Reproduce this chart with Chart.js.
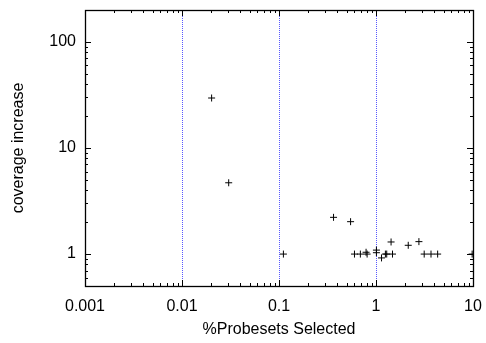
<!DOCTYPE html>
<html>
<head>
<meta charset="utf-8">
<script src="https://cdn.jsdelivr.net/npm/chart.js@4"></script>
<style>
  html, body { margin: 0; padding: 0; background: #fff; }
  #wrap { width: 486px; height: 343px; }
</style>
</head>
<body>
<div id="wrap"><canvas id="myChart" width="486" height="343"></canvas></div>
<script>
// %probesets selected vs coverage increase
const pctSelected = [0.0202, 0.0303, 0.111, 0.365, 0.547, 0.60, 0.69, 0.79, 0.81, 1.01, 1.01, 1.14, 1.25, 1.29, 1.43, 1.48, 2.15, 2.77, 3.14, 3.69, 4.32, 9.8];
const coverage    = [29.6, 4.7, 1.0, 2.22, 2.02, 1.0, 1.0, 1.04, 1.0, 1.09, 1.03, 0.92, 1.0, 1.0, 1.3, 1.0, 1.21, 1.31, 1.0, 1.0, 1.0, 1.0];

const xTicks = [0.001, 0.01, 0.1, 1, 10];
const xTickLabels = ["0.001", "0.01", "0.1", "1", "10"];
const yTicks = [1, 10, 100];
const yTickLabels = ["1", "10", "100"];
const xGridAt = [0.01, 0.1, 1];

const FONT = "'Liberation Sans', Arial, sans-serif";

// frame with inward major/minor log ticks on all four sides
const frameTicks = {
  id: "frameTicks",
  afterDraw(chart) {
    const { ctx, chartArea: a, scales } = chart;
    ctx.save();
    ctx.strokeStyle = "#000";
    ctx.lineWidth = 1;
    ctx.beginPath();
    const logTicks = (scale, cb) => {
      const lo = Math.floor(Math.log10(scale.min));
      const hi = Math.ceil(Math.log10(scale.max));
      for (let d = lo; d <= hi; d++) {
        for (let m = 1; m <= 9; m++) {
          const v = m * Math.pow(10, d);
          if (v < scale.min * 0.999 || v > scale.max * 1.001) continue;
          cb(Math.round(scale.getPixelForValue(v)) + 0.5, m === 1 ? 6 : 3);
        }
      }
    };
    logTicks(scales.x, (px, len) => {
      ctx.moveTo(px, a.bottom); ctx.lineTo(px, a.bottom - len);
      ctx.moveTo(px, a.top); ctx.lineTo(px, a.top + len);
    });
    logTicks(scales.y, (py, len) => {
      ctx.moveTo(a.left, py); ctx.lineTo(a.left + len, py);
      ctx.moveTo(a.right, py); ctx.lineTo(a.right - len, py);
    });
    ctx.stroke();
    ctx.lineWidth = 1.3;
    ctx.strokeRect(Math.round(a.left) + 0.5, Math.round(a.top) + 0.5,
      Math.round(a.right - a.left), Math.round(a.bottom - a.top));
    ctx.restore();
  }
};

const ctx = document.getElementById("myChart");

new Chart(ctx, {
  type: "scatter",
  data: {
    datasets: [
      {
        data: pctSelected.map((x, i) => ({ x: x, y: coverage[i] })),
        pointStyle: "cross",
        radius: 3.5,
        hoverRadius: 3.5,
        borderColor: "#000",
        backgroundColor: "#000",
        borderWidth: 1,
      },
    ],
  },
  options: {
    responsive: false,
    animation: false,
    events: [],
    layout: { padding: { top: 10, right: 13, left: 0, bottom: 0 } },
    plugins: { legend: { display: false }, tooltip: { enabled: false } },
    scales: {
      x: {
        type: "logarithmic",
        min: 0.001,
        max: 10,
        afterBuildTicks: (s) => { s.ticks = xTicks.map((v) => ({ value: v, major: true })); },
        afterFit: (s) => { s.height = 57; s.paddingLeft = 0; s.paddingRight = 0; },
        border: { display: false, dash: [1, 1] },
        grid: {
          drawTicks: false,
          color: (c) => (c.tick && xGridAt.includes(c.tick.value) ? "#5858ff" : "rgba(0,0,0,0)"),
          lineWidth: 1,
        },
        ticks: {
          autoSkip: false,
          maxRotation: 0,
          padding: 11,
          color: "#000",
          font: { family: FONT, size: 16 },
          callback: (v, i) => xTickLabels[i],
        },
        title: {
          display: true,
          text: "%Probesets Selected",
          color: "#000",
          font: { family: FONT, size: 16 },
          padding: { top: 0, bottom: 4 },
        },
      },
      y: {
        type: "logarithmic",
        min: 0.5,
        max: 200,
        afterBuildTicks: (s) => { s.ticks = yTicks.map((v) => ({ value: v, major: true })); },
        afterFit: (s) => { s.width = 85; s.paddingTop = 0; s.paddingBottom = 0; },
        border: { display: false },
        grid: { display: false, drawTicks: false },
        ticks: {
          padding: 9,
          color: "#000",
          font: { family: FONT, size: 16 },
          callback: (v, i) => yTickLabels[i],
        },
        title: {
          display: true,
          text: "coverage increase",
          color: "#000",
          font: { family: FONT, size: 16 },
          padding: { top: 9, bottom: 0 },
        },
      },
    },
  },
  plugins: [frameTicks],
});
</script>
</body>
</html>
